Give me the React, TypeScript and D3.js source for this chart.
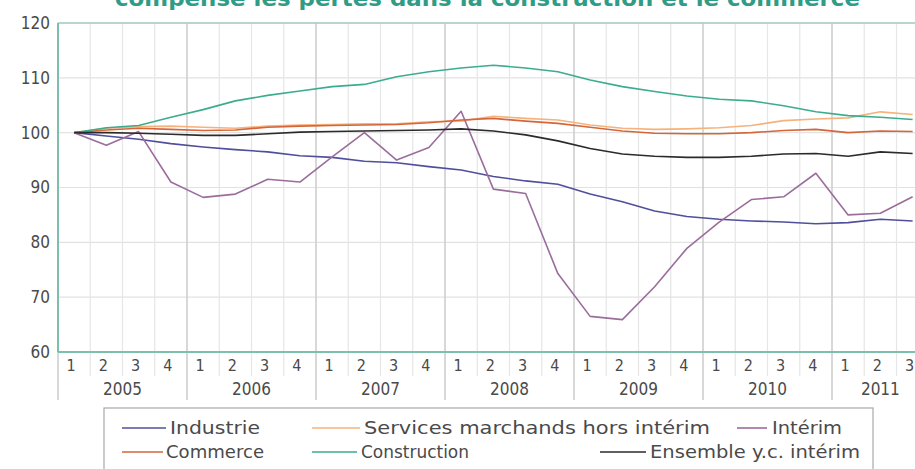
import * as d3 from "d3";

const quarters = [
  "1", "2", "3", "4", "1", "2", "3", "4", "1", "2", "3", "4", "1", "2",
  "3", "4", "1", "2", "3", "4", "1", "2", "3", "4", "1", "2", "3",
];
const years = ["2005", "2006", "2007", "2008", "2009", "2010", "2011"];
const yTicks = [60, 70, 80, 90, 100, 110, 120];

const industrie = [
  100, 99.4, 98.8, 98.0, 97.4, 96.9, 96.5, 95.8, 95.5, 94.8, 94.5, 93.8, 93.2,
  92.0, 91.2, 90.6, 88.8, 87.4, 85.7, 84.7, 84.2, 83.9, 83.7, 83.4, 83.6, 84.2, 83.9,
];
const services = [
  100, 100.8, 101.1, 101.2, 101.0, 100.8, 101.2, 101.4, 101.5, 101.6, 101.6, 102.0, 102.1,
  103.0, 102.6, 102.3, 101.4, 100.8, 100.6, 100.7, 100.9, 101.3, 102.2, 102.5, 102.7, 103.8, 103.3,
];
const interim = [
  100, 97.7, 100.2, 91.0, 88.2, 88.8, 91.5, 91.0, 95.6, 100.0, 95.0, 97.3, 103.9,
  89.7, 88.9, 74.3, 66.5, 65.9, 71.9, 78.9, 83.7, 87.8, 88.3, 92.6, 85.0, 85.3, 88.3,
];
const commerce = [
  100, 100.5, 100.8, 100.6, 100.4, 100.5, 101.0, 101.2, 101.3, 101.4, 101.5, 101.8, 102.3,
  102.6, 102.1, 101.7, 101.0, 100.3, 99.9, 99.8, 99.8, 100.0, 100.4, 100.6, 100.0, 100.3, 100.2,
];
const construction = [
  100, 100.9, 101.3, 102.8, 104.2, 105.8, 106.8, 107.6, 108.4, 108.8, 110.2, 111.1, 111.8,
  112.3, 111.8, 111.1, 109.6, 108.4, 107.5, 106.7, 106.1, 105.8, 104.9, 103.8, 103.1, 102.8, 102.4,
];
const ensemble = [
  100, 100.0, 99.9, 99.7, 99.5, 99.5, 99.8, 100.1, 100.2, 100.3, 100.4, 100.5, 100.7,
  100.3, 99.6, 98.5, 97.1, 96.1, 95.7, 95.5, 95.5, 95.7, 96.1, 96.2, 95.7, 96.5, 96.2,
];

const series = [
  { name: "Industrie", values: industrie, color: "#4f4f9c" },
  { name: "Services marchands hors intérim", values: services, color: "#f6b27c" },
  { name: "Intérim", values: interim, color: "#9a6d9c" },
  { name: "Commerce", values: commerce, color: "#d4663a" },
  { name: "Construction", values: construction, color: "#3bad8e" },
  { name: "Ensemble y.c. intérim", values: ensemble, color: "#2b2b2b" },
];

// legend layout: row, line x1, line x2, text x, text width
const legendPos = [
  [0, 122, 166, 170, 90],
  [0, 312, 360, 364, 346],
  [0, 737, 767, 772, 70],
  [1, 122, 163, 166, 98],
  [1, 312, 357, 361, 108],
  [1, 600, 646, 650, 210],
];

const font = '"DejaVu Sans Condensed", "Open Sans", sans-serif';
const legendFont = '"DejaVu Sans", "Open Sans", sans-serif';

export default function App() {
  const width = 915;
  const height = 469;
  const left = 58;
  const top = 23;
  const bottom = 352;
  const bandW = 32.25;

  const x = d3
    .scaleBand<number>()
    .domain(d3.range(quarters.length))
    .range([left, left + quarters.length * bandW]);
  const cx = (i: number) => (x(i) as number) + x.bandwidth() / 2;

  const y = d3.scaleLinear().domain([60, 120]).range([bottom, top]);

  const line = d3
    .line<number>()
    .x((_, i) => cx(i))
    .y((d) => y(d));

  const ink = "#4a4a4a";

  return (
    <svg
      width={width}
      height={height}
      style={{ position: "absolute", left: 0, top: 0, background: "white" }}
    >
      <text
        x={115}
        y={6}
        fontFamily={font}
        fontWeight="bold"
        fontSize={22}
        fill="#2f9c86"
        textLength={745}
        lengthAdjust="spacingAndGlyphs"
      >
        compensé les pertes dans la construction et le commerce
      </text>

      {/* horizontal grid */}
      {yTicks.map((t) => (
        <line key={t} x1={left} x2={width} y1={y(t)} y2={y(t)} stroke="#e2e2e2" strokeWidth={1.2} />
      ))}
      {/* quarter grid */}
      {quarters.map((_, i) => {
        const xb = x(i) as number;
        const yearLine = i % 4 === 0;
        return (
          <line
            key={i}
            x1={xb}
            x2={xb}
            y1={top}
            y2={yearLine ? 400 : 376}
            stroke={yearLine ? "#cfcfcf" : "#e6e6e6"}
            strokeWidth={yearLine ? 1.6 : 1.2}
          />
        );
      })}
      <line x1={left} x2={width} y1={top} y2={top} stroke="#a9cdc3" strokeWidth={1.5} />
      <line x1={left} x2={left} y1={top} y2={bottom} stroke="#7dbfad" strokeWidth={2} />
      <line x1={left} x2={width} y1={bottom} y2={bottom} stroke="#7dbfad" strokeWidth={2} />

      {yTicks.map((t) => (
        <text
          key={t}
          x={50}
          y={y(t)}
          dy="0.35em"
          textAnchor="end"
          fontFamily={font}
          fontSize={17}
          fill={ink}
        >
          {t}
        </text>
      ))}

      {quarters.map((q, i) => (
        <text
          key={i}
          x={cx(i) - 3}
          y={371}
          textAnchor="middle"
          fontFamily={font}
          fontSize={16}
          fill={ink}
        >
          {q}
        </text>
      ))}
      {years.map((yr, k) => {
        const first = k * 4;
        const last = Math.min(first + 3, quarters.length - 1);
        return (
          <text
            key={yr}
            x={(cx(first) + cx(last)) / 2}
            y={395}
            textAnchor="middle"
            fontFamily={font}
            fontSize={17}
            fill={ink}
          >
            {yr}
          </text>
        );
      })}

      {series.map((s) => (
        <path
          key={s.name}
          d={line(s.values) ?? ""}
          fill="none"
          stroke={s.color}
          strokeWidth={1.6}
          strokeLinejoin="round"
        />
      ))}

      <rect x={104} y={408} width={769} height={70} fill="none" stroke="#a8a8a8" strokeWidth={1.2} />
      {series.map((s, k) => {
        const [row, lx1, lx2, tx, tw] = legendPos[k];
        const ly = 428 + row * 24;
        return (
          <g key={s.name}>
            <line x1={lx1} x2={lx2} y1={ly} y2={ly} stroke={s.color} strokeWidth={1.6} />
            <text
              x={tx}
              y={ly}
              dy="0.35em"
              fontFamily={legendFont}
              fontSize={18}
              fill={ink}
              textLength={tw}
              lengthAdjust="spacingAndGlyphs"
            >
              {s.name}
            </text>
          </g>
        );
      })}
    </svg>
  );
}
